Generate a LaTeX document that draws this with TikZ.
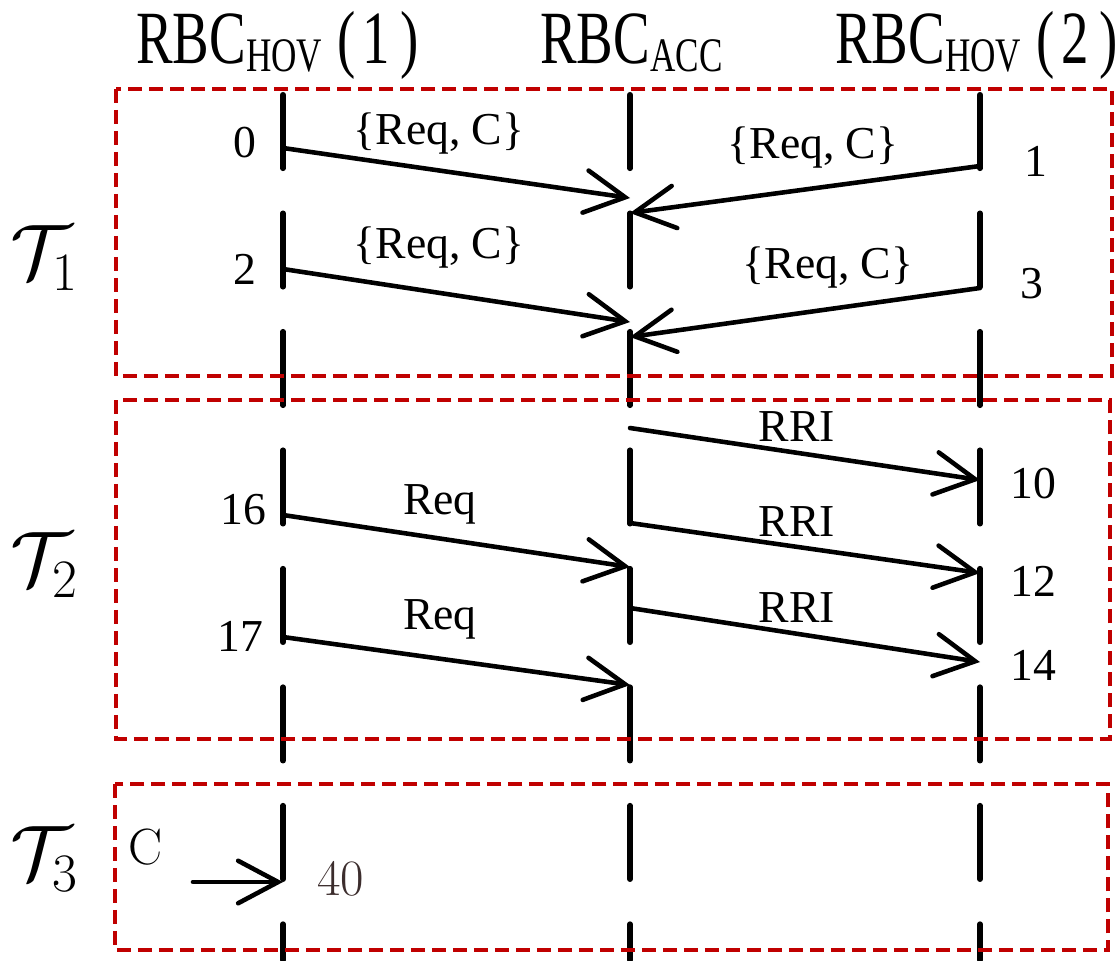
\RequirePackage{fix-cm}
\documentclass[tikz,border=0pt]{standalone}
\usepackage{fontspec}
\setmainfont{Liberation Serif}
\usepackage{graphicx}
\usetikzlibrary{arrows.meta}

\definecolor{phasered}{RGB}{192,0,0}
\definecolor{darklabel}{RGB}{60,45,45}

% header of a lifeline: RBC with subscript, then an optional tail
\newcommand{\rbchead}[2]{\scalebox{0.73}[1]{\fontsize{42.8}{48}\selectfont RBC\raisebox{-5.1pt}{\fontsize{27.4}{30}\selectfont #1}#2}}
% Computer Modern for the plain labels in the last phase
\newcommand{\cmfont}{\fontencoding{OT1}\fontfamily{cmr}\fontseries{m}\fontshape{n}\fontsize{29}{34}\selectfont}

\begin{document}
\begin{tikzpicture}[x=0.02cm, y=-0.02cm,
	every node/.style={font=\fontsize{26}{30}\selectfont, inner sep=0pt},
	lifeline/.style={line width=3.2pt, line cap=round, dash pattern=on 1.47cm off 0.9cm},
	msg/.style={line width=2.6pt, line cap=round, -{Straight Barb[length=0.8cm, width=0.85cm, line cap=round]}},
	phase/.style={draw=phasered, line width=2.4pt, dash pattern=on 0.28cm off 0.14cm}]
	\useasboundingbox (0,0) rectangle (1115,960);

	% lifelines and their heads
	\node[anchor=base west] (hovA) at (136,63) {\rbchead{HOV}{\hspace{12pt}(\hspace{5pt}1\hspace{8pt})}};
	\node[anchor=base west] (acc) at (540,63) {\rbchead{ACC}{}};
	\node[anchor=base west] (hovB) at (835,63) {\rbchead{HOV}{\hspace{12pt}(\hspace{5pt}2\hspace{8pt})}};
	\foreach \x in {283,630,980} {\draw[lifeline] (\x,94.8) -- (\x,960);}

	% phases
	\draw[phase] (116,89) rectangle (1112,376);
	\draw[phase] (116,400) rectangle (1110,739);
	\draw[phase] (115,784) rectangle (1108,950);
	\node (tau1) at (44,258) {\fontsize{44}{50}\selectfont $\mathcal{T}_1$};
	\node (tau2) at (44,565) {\fontsize{44}{50}\selectfont $\mathcal{T}_2$};
	\node (tau3) at (44,859) {\fontsize{44}{50}\selectfont $\mathcal{T}_3$};

	% T1: requests to the accepting RBC
	\coordinate (s0) at (283,148); \coordinate (t0) at (630,198);
	\coordinate (s1) at (980,166); \coordinate (t1) at (630,213);
	\coordinate (s2) at (283,269); \coordinate (t2) at (630,322);
	\coordinate (s3) at (980,288); \coordinate (t3) at (630,337);
	\draw[msg] (s0) -- (t0);
	\draw[msg] (s1) -- (t1);
	\draw[msg] (s2) -- (t2);
	\draw[msg] (s3) -- (t3);
	\node (m0) at (439,134) {\{Req, C\}};
	\node (m1) at (813,148) {\{Req, C\}};
	\node (m2) at (439,248) {\{Req, C\}};
	\node (m3) at (828,268) {\{Req, C\}};
	\node (n0) at (245,143) {0};
	\node (n1) at (1036,161) {1};
	\node (n2) at (245,269) {2};
	\node (n3) at (1032,284) {3};

	% T2: route info and requests
	\coordinate (r1) at (630,428); \coordinate (e1) at (980,480);
	\coordinate (r2) at (630,523); \coordinate (e2) at (980,573);
	\coordinate (r3) at (630,608); \coordinate (e3) at (980,662);
	\coordinate (q16) at (283,515); \coordinate (f16) at (630,567);
	\coordinate (q17) at (283,637); \coordinate (f17) at (630,685);
	\draw[msg] (r1) -- (e1);
	\draw[msg] (r2) -- (e2);
	\draw[msg] (r3) -- (e3);
	\draw[msg] (q16) -- (f16);
	\draw[msg] (q17) -- (f17);
	\node (rri1) at (797,427) {RRI};
	\node (rri2) at (797,522) {RRI};
	\node (rri3) at (797,608) {RRI};
	\node (req1) at (440,504) {Req};
	\node (req2) at (440,619) {Req};
	\node (n10) at (1033,484) {10};
	\node (n12) at (1033,581) {12};
	\node (n14) at (1033,665) {14};
	\node (n16) at (243,510) {16};
	\node (n17) at (240,636) {17};

	% T3: incoming C
	\coordinate (c0) at (193,882); \coordinate (c1) at (283,882);
	\draw[msg] (c0) -- (c1);
	\node (cin) at (146,847) {\cmfont C};
	\node[text=darklabel] (n40) at (341,879) {\cmfont 40};
\end{tikzpicture}
\end{document}
